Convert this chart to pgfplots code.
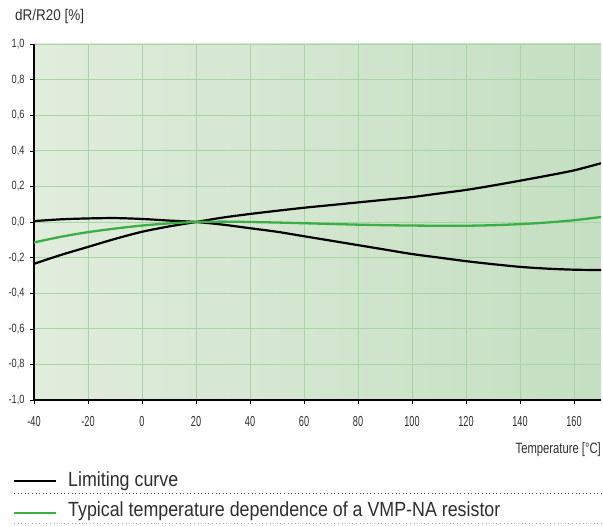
\documentclass[border=0pt]{standalone}
\usepackage{fontspec}
\setmainfont{Liberation Sans}[FakeStretch=0.75]
\newfontfamily\fA{Liberation Sans}[FakeStretch=0.63]
\newfontfamily\fY{Liberation Sans}[FakeStretch=0.77]
\newfontfamily\fB{Liberation Sans}[FakeStretch=0.87]
\usepackage{pgfplots}
\pgfplotsset{compat=1.18}
\definecolor{bgL}{HTML}{E1ECDD}
\definecolor{bgR}{HTML}{C4DFC1}
\definecolor{gridg}{HTML}{A8D5A4}
\definecolor{lgreen}{HTML}{3BAE45}
\definecolor{txt}{HTML}{2E2E2E}
\begin{document}
\begin{tikzpicture}[x=1bp,y=1bp]
\useasboundingbox (0,0) rectangle (603,527);
\begin{axis}[
  at={(34bp,127bp)}, anchor=south west,
  scale only axis, width=567bp, height=356bp,
  xmin=-40, xmax=170, ymin=-1, ymax=1,
  xtick={-40,-20,...,160},
  ytick={-1,-0.8,-0.6,-0.4,-0.2,0,0.2,0.4,0.6,0.8,1},
  yticklabels={-1{,}0,-0{,}8,-0{,}6,-0{,}4,-0{,}2,0{,}0,0{,}2,0{,}4,0{,}6,0{,}8,1{,}0},
  axis x line=bottom, axis y line=left,
  axis line style={-, black, line width=1.7bp},
  tick align=outside, major tick length=4bp,
  tick style={black, line width=0.5bp},
  grid=major, grid style={gridg, line width=0.6bp},
  axis background/.style={left color=bgL, right color=bgR},
  /pgf/number format/assume math mode=true,
  yticklabel style={font=\fY\fontsize{12bp}{13bp}\selectfont, text=txt, xshift=-2bp},
  xticklabel style={font=\fA\fontsize{14.5bp}{16bp}\selectfont, text=txt, yshift=-9bp},
  clip=true,
]
\addplot[black, line width=2.2bp, smooth] coordinates {
(-40,0.005)(-30,0.015)(-20,0.02)(-10,0.022)(0,0.017)(10,0.008)(20,0)(30,-0.015)(40,-0.035)(50,-0.055)(60,-0.08)(70,-0.105)(80,-0.13)(90,-0.155)(100,-0.18)(110,-0.2)(120,-0.22)(130,-0.237)(140,-0.252)(150,-0.262)(160,-0.268)(170,-0.27)};
\addplot[black, line width=2.2bp, smooth] coordinates {
(-40,-0.235)(-30,-0.185)(-20,-0.14)(-10,-0.095)(0,-0.055)(10,-0.025)(20,0)(30,0.025)(40,0.045)(50,0.063)(60,0.08)(70,0.095)(80,0.11)(90,0.125)(100,0.14)(110,0.16)(120,0.18)(130,0.205)(140,0.232)(150,0.26)(160,0.29)(170,0.33)};
\addplot[lgreen, line width=2.3bp, smooth] coordinates {
(-40,-0.115)(-30,-0.083)(-20,-0.057)(-10,-0.037)(0,-0.02)(10,-0.008)(20,0)(30,0.002)(40,0)(50,-0.003)(60,-0.007)(70,-0.011)(80,-0.015)(90,-0.018)(100,-0.02)(110,-0.021)(120,-0.021)(130,-0.018)(140,-0.012)(150,-0.003)(160,0.01)(170,0.028)};
\end{axis}
\node[anchor=base west, inner sep=0, text=txt, font=\fB\fontsize{15.5bp}{16bp}\selectfont] at (15,506) {dR/R20 [\%]};
\node[anchor=base east, inner sep=0, text=txt, font=\fontsize{15bp}{16bp}\selectfont] at (601,73) {Temperature [°C]};
\draw[black, line width=2.2bp] (14,46) -- (56,46);
\node[anchor=base west, inner sep=0, text=txt, font=\fB\fontsize{20.5bp}{22bp}\selectfont] at (68,40) {Limiting curve};
\draw[black!70, line width=1bp, dash pattern=on 1bp off 2.6bp] (14,33) -- (603,33);
\draw[lgreen, line width=2.2bp] (14,14) -- (56,14);
\node[anchor=base west, inner sep=0, text=txt, font=\fB\fontsize{20.5bp}{22bp}\selectfont] at (68,10) {Typical temperature dependence of a VMP-NA resistor};
\draw[black!35, line width=1bp, dash pattern=on 1bp off 2.6bp] (14,3) -- (603,3);
\end{tikzpicture}
\end{document}
